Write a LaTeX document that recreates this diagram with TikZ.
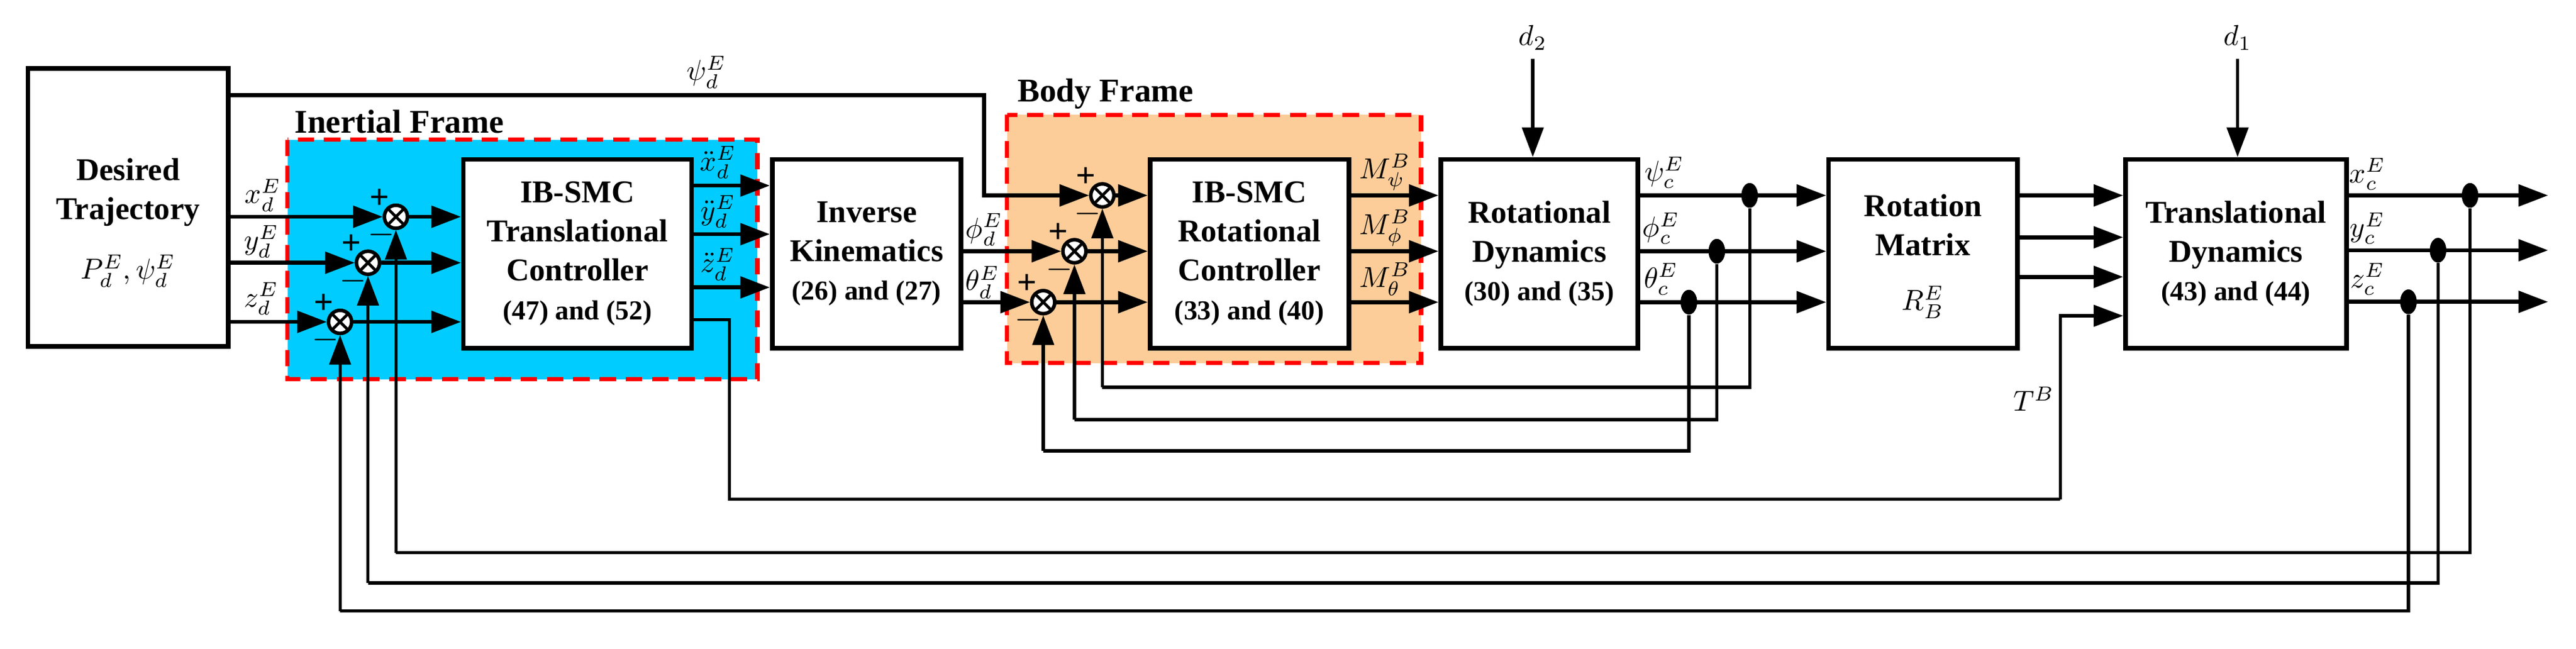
\documentclass[tikz,border=0pt]{standalone}
\usepackage{fontspec}
\setmainfont{Liberation Serif}
\usetikzlibrary{arrows.meta,shapes.geometric,calc}

\tikzset{
  blk/.style={draw,line width=1.6pt,fill=white,align=center,inner sep=0,
    font=\bfseries\fontsize{11}{13.5}\selectfont},
  sig/.style={line width=1.4pt,-{Triangle[length=0.36cm,width=0.26cm]}},
  fb/.style={line width=1.1pt},
  sumc/.style={circle,draw,line width=1.2pt,fill=white,inner sep=0,minimum size=0.28cm,
    path picture={\draw[line width=1pt]
      (path picture bounding box.north west)--(path picture bounding box.south east)
      (path picture bounding box.north east)--(path picture bounding box.south west);}},
  dot/.style={ellipse,fill,inner sep=0,minimum width=0.2cm,minimum height=0.3cm},
  lbl/.style={font=\normalsize,inner sep=1pt},
  sgn/.style={font=\bfseries\large,inner sep=0},
  frm/.style={draw=red,line width=1.5pt,dash pattern=on 0.2cm off 0.12cm}
}
\definecolor{inertialblue}{RGB}{0,204,255}
\definecolor{bodyorange}{RGB}{252,204,153}
\newcommand{\eqs}[1]{{\fontsize{9.5}{11.5}\selectfont #1}}

\begin{document}
\begin{tikzpicture}[x=0.02cm,y=-0.02cm]
  \useasboundingbox (0,0) rectangle (1568,395);

  % frames
  \fill[inertialblue] (175,85) rectangle (461,231);
  \draw[frm] (175,85) rectangle (461,231);
  \node[font=\bfseries\fontsize{11.5}{13}\selectfont] at (243,74) {Inertial Frame};
  \fill[bodyorange] (613,70) rectangle (865,221);
  \draw[frm] (613,70) rectangle (865,221);
  \node[font=\bfseries\fontsize{11.5}{13}\selectfont] at (673,57) {Body Frame};

  % rows
  \coordinate (ry) at (0,119);
  \coordinate (rp) at (0,153);
  \coordinate (rt) at (0,184);
  \coordinate (ox) at (0,113);
  \coordinate (oy) at (0,142.6);
  \coordinate (oz) at (0,175);
  \coordinate (ma) at (0,144.5);
  \coordinate (mb) at (0,168.6);
  \coordinate (tb) at (0,192.3);
  \coordinate (cy) at (0,152.4);
  \coordinate (cz) at (0,183.8);

  % blocks
  \node[blk,minimum width=2.44cm,minimum height=3.39cm] (des) at (78,126.3) {};
  \node[font=\bfseries\fontsize{11}{13.5}\selectfont,align=center] at (78,117) {Desired\\Trajectory};
  \node[lbl] at (78,165) {$P_d^E,\psi_d^E$};
  \node[blk,minimum width=2.78cm,minimum height=2.3cm] (trc) at (351.5,154.5)
    {IB-SMC\\Translational\\Controller\\\eqs{(47) and (52)}};
  \node[blk,minimum width=2.3cm,minimum height=2.3cm] (ik) at (527.5,154.5)
    {Inverse\\Kinematics\\\eqs{(26) and (27)}};
  \node[blk,minimum width=2.42cm,minimum height=2.3cm] (rc) at (760.5,154.5)
    {IB-SMC\\Rotational\\Controller\\\eqs{(33) and (40)}};
  \node[blk,minimum width=2.4cm,minimum height=2.3cm] (rd) at (937,154.5)
    {Rotational\\Dynamics\\\eqs{(30) and (35)}};
  \node[blk,minimum width=2.3cm,minimum height=2.3cm] (rm) at (1170.5,154.5) {};
  \node[font=\bfseries\fontsize{11}{13.5}\selectfont,align=center] at (1170.5,137) {Rotation\\Matrix};
  \node[lbl] at (1170.5,184) {$R_B^E$};
  \node[blk,minimum width=2.69cm,minimum height=2.3cm] (td) at (1361,154.5)
    {Translational\\Dynamics\\\eqs{(43) and (44)}};

  % summing junctions
  \node[sumc] (sx) at (241,132) {};
  \node[sumc] (sy) at (224,160) {};
  \node[sumc] (sz) at (207,196) {};
  \node[sumc] (spsi) at (671,119) {};
  \node[sumc] (sphi) at (654,153) {};
  \node[sumc] (sth) at (635,184) {};
  \foreach \s in {sx,sy,sz,spsi,sphi,sth}{
    \node[sgn] at ($(\s)+(-10,-11)$) {+};
    \node[sgn] at ($(\s)+(-9,11)$) {$-$};
  }

  % pick-off points
  \node[dot] (dpsi) at (1065,119) {};
  \node[dot] (dphi) at (1045,153) {};
  \node[dot] (dth) at (1028,184) {};
  \node[dot] (dx) at (1503.5,119) {};
  \node[dot] (dy) at (1484,152.4) {};
  \node[dot] (dz) at (1466,183.8) {};

  % desired trajectory to sums
  \draw[sig] (des.east |- sx) -- (sx);
  \draw[sig] (des.east |- sy) -- (sy);
  \draw[sig] (des.east |- sz) -- (sz);
  \node[lbl] at (160,119) {$x_d^E$};
  \node[lbl] at (159,147) {$y_d^E$};
  \node[lbl] at (159,182) {$z_d^E$};
  \draw[sig] (sx) -- (trc.west |- sx);
  \draw[sig] (sy) -- (trc.west |- sy);
  \draw[sig] (sz) -- (trc.west |- sz);

  % heading reference
  \coordinate (hd) at (599,58);
  \draw[sig] (des.east |- hd) -- (hd) |- (spsi);
  \node[lbl] at (430,44) {$\psi_d^E$};

  % translational controller to inverse kinematics
  \draw[sig] (trc.east |- ox) -- (ik.west |- ox);
  \draw[sig] (trc.east |- oy) -- (ik.west |- oy);
  \draw[sig] (trc.east |- oz) -- (ik.west |- oz);
  \node[lbl] at (437,99) {$\ddot{x}_d^E$};
  \node[lbl] at (437,129) {$\ddot{y}_d^E$};
  \node[lbl] at (437,161) {$\ddot{z}_d^E$};

  % thrust
  \coordinate (tc) at (444,194.6);
  \coordinate (tl) at (1254,304);
  \draw[fb] (trc.east |- tc) -- (tc) |- (tl);
  \draw[fb,sig,line width=1.1pt] (tl) |- (td.west |- tb);
  \node[lbl] at (1238,243) {$T^B$};

  % inverse kinematics to rotational sums
  \draw[sig] (ik.east |- sphi) -- (sphi);
  \draw[sig] (ik.east |- sth) -- (sth);
  \node[lbl] at (599,140) {$\phi_d^E$};
  \node[lbl] at (598,172) {$\theta_d^E$};
  \draw[sig] (spsi) -- (rc.west |- spsi);
  \draw[sig] (sphi) -- (rc.west |- sphi);
  \draw[sig] (sth) -- (rc.west |- sth);

  % moments
  \draw[sig] (rc.east |- ry) -- (rd.west |- ry);
  \draw[sig] (rc.east |- rp) -- (rd.west |- rp);
  \draw[sig] (rc.east |- rt) -- (rd.west |- rt);
  \node[lbl] at (843,105) {$M_\psi^B$};
  \node[lbl] at (843,139) {$M_\phi^B$};
  \node[lbl] at (843,170) {$M_\theta^B$};

  % disturbances
  \coordinate (d2) at (933,36);
  \coordinate (d1) at (1362,36);
  \draw[sig,line width=1.1pt] (d2) -- (rd.north -| d2);
  \draw[sig,line width=1.1pt] (d1) -- (td.north -| d1);
  \node[lbl] at (933,23) {$d_2$};
  \node[lbl] at (1362,23) {$d_1$};

  % attitude to rotation matrix
  \draw[sig] (rd.east |- ry) -- (rm.west |- ry);
  \draw[sig] (rd.east |- rp) -- (rm.west |- rp);
  \draw[sig] (rd.east |- rt) -- (rm.west |- rt);
  \node[lbl] at (1013,105) {$\psi_c^E$};
  \node[lbl] at (1011,139) {$\phi_c^E$};
  \node[lbl] at (1011,170) {$\theta_c^E$};

  % attitude feedback
  \coordinate (fpsi) at (0,235.8);
  \coordinate (fphi) at (0,255.5);
  \coordinate (fth) at (0,274.6);
  \draw[fb] (dpsi) -- (dpsi |- fpsi) -- (spsi |- fpsi);
  \draw[fb,sig,line width=1.1pt] (spsi |- fpsi) -- (spsi);
  \draw[fb] (dphi) -- (dphi |- fphi) -- (sphi |- fphi);
  \draw[fb,sig,line width=1.1pt] (sphi |- fphi) -- (sphi);
  \draw[fb] (dth) -- (dth |- fth) -- (sth |- fth);
  \draw[fb,sig,line width=1.1pt] (sth |- fth) -- (sth);

  % rotation matrix to translational dynamics
  \draw[sig] (rm.east |- ry) -- (td.west |- ry);
  \draw[sig] (rm.east |- ma) -- (td.west |- ma);
  \draw[sig] (rm.east |- mb) -- (td.west |- mb);

  % position outputs
  \coordinate (ex) at (1551,119);
  \draw[sig] (td.east |- ex) -- (ex);
  \draw[sig] (td.east |- cy) -- (ex |- cy);
  \draw[sig] (td.east |- cz) -- (ex |- cz);
  \node[lbl] at (1441,106) {$x_c^E$};
  \node[lbl] at (1441,139) {$y_c^E$};
  \node[lbl] at (1441,170) {$z_c^E$};

  % position feedback
  \coordinate (fx) at (0,336.6);
  \coordinate (fy) at (0,355);
  \coordinate (fz) at (0,372);
  \draw[fb] (dx) -- (dx |- fx) -- (sx |- fx);
  \draw[fb,sig,line width=1.1pt] (sx |- fx) -- (sx);
  \draw[fb] (dy) -- (dy |- fy) -- (sy |- fy);
  \draw[fb,sig,line width=1.1pt] (sy |- fy) -- (sy);
  \draw[fb] (dz) -- (dz |- fz) -- (sz |- fz);
  \draw[fb,sig,line width=1.1pt] (sz |- fz) -- (sz);

  % redraw junctions and dots on top
  \foreach \s in {sx,sy,sz,spsi,sphi,sth}{ \node[sumc] at (\s) {}; }
  \foreach \d in {dpsi,dphi,dth,dx,dy,dz}{ \node[dot] at (\d) {}; }
\end{tikzpicture}
\end{document}
